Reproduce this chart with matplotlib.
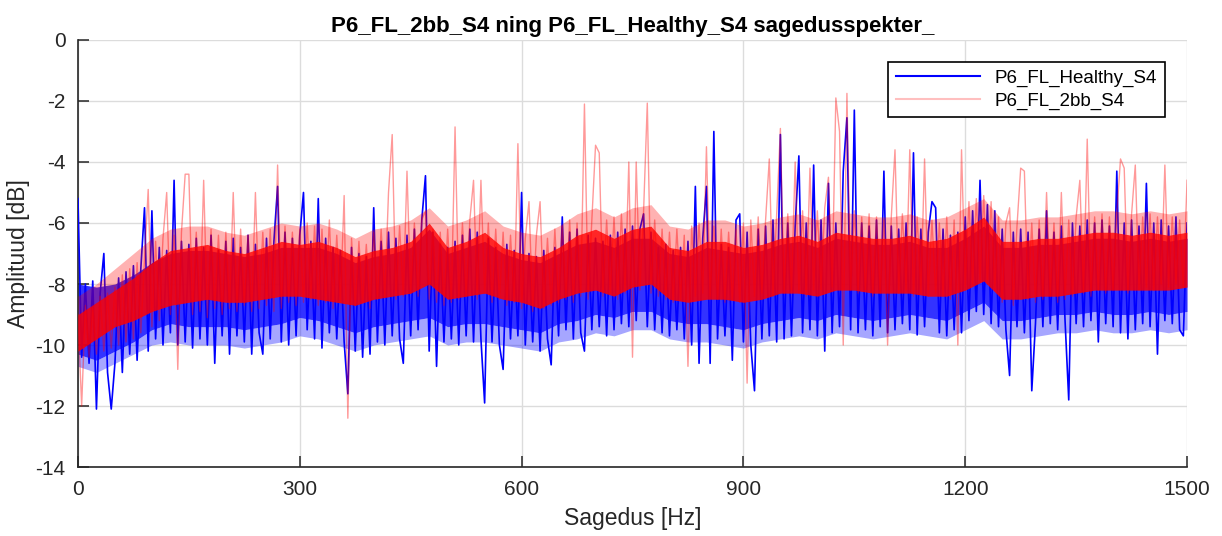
import numpy as np
import matplotlib
matplotlib.use("Agg")
import matplotlib.pyplot as plt
from matplotlib.lines import Line2D

plt.rcParams['font.family'] = ['Liberation Sans', 'DejaVu Sans']
plt.rcParams['axes.unicode_minus'] = False

# spectrum values, one value every 5 Hz (0 ... 1500 Hz)
freq_step = 5

healthy_db = [
    -5.2, -10.4, -8.0, -10.6, -7.9, -12.1, -8.3, -7.0, -10.9, -12.1,
    -10.6, -7.8, -10.9, -7.6, -10.3, -7.4, -10.5, -7.5, -5.5, -10.2,
    -5.6, -9.8, -6.8, -10.0, -6.9, -9.6, -4.6, -10.0, -6.6, -9.9,
    -6.7, -10.1, -6.5, -9.8, -6.8, -10.0, -6.4, -10.6, -6.9, -9.7,
    -6.6, -10.3, -6.5, -9.7, -6.8, -9.9, -6.4, -10.3, -6.7, -9.6,
    -10.3, -6.5, -9.8, -6.6, -4.8, -9.9, -6.3, -10.0, -6.5, -9.7,
    -6.4, -5.0, -9.5, -6.6, -9.8, -5.2, -10.1, -6.5, -9.6, -6.8,
    -9.8, -6.9, -9.9, -11.6, -6.8, -10.2, -7.0, -10.4, -7.1, -10.3,
    -5.5, -9.9, -6.6, -10.0, -6.3, -9.7, -6.5, -9.8, -10.6, -6.4,
    -9.7, -6.2, -9.5, -5.9, -4.45, -10.2, -6.3, -10.7, -6.7, -9.9,
    -6.8, -9.8, -6.6, -10.0, -6.4, -9.7, -6.2, -9.9, -6.3, -9.8,
    -11.9, -6.5, -9.9, -6.8, -10.0, -10.8, -6.7, -9.8, -6.9, -9.7,
    -5.0, -10.0, -7.0, -9.9, -7.1, -10.2, -6.9, -9.8, -10.65, -6.8,
    -9.7, -5.8, -9.5, -6.3, -9.8, -6.2, -9.6, -10.2, -6.4, -9.5,
    -6.5, -9.4, -6.6, -9.7, -6.4, -9.5, -6.3, -9.3, -6.2, -9.4,
    -6.1, -9.2, -6.2, -5.7, -9.4, -6.3, -9.5, -6.8, -9.6, -6.7,
    -9.7, -6.9, -9.5, -6.8, -9.8, -6.6, -10.0, -4.8, -10.6, -6.5,
    -4.8, -10.6, -3.0, -9.8, -6.7, -9.7, -6.8, -10.5, -5.9, -5.7,
    -9.9, -6.3, -10.0, -11.5, -6.2, -9.8, -6.1, -9.7, -5.9, -9.9,
    -3.1, -9.8, -6.0, -9.7, -6.1, -3.8, -9.6, -6.0, -9.5, -4.1,
    -9.7, -5.9, -10.2, -4.7, -9.6, -6.0, -9.4, -4.3, -2.55, -9.5,
    -2.3, -9.6, -6.0, -9.5, -6.1, -9.7, -5.9, -9.4, -4.3, -9.6,
    -6.1, -9.5, -6.2, -9.3, -6.0, -9.5, -3.7, -9.67, -6.2, -9.4,
    -6.3, -5.3, -5.5, -9.6, -6.2, -9.7, -6.4, -9.5, -6.3, -9.6,
    -5.8, -9.2, -5.6, -8.9, -4.6, -9.0, -5.4, -9.3, -5.6, -9.4,
    -6.2, -9.5, -11.0, -6.3, -9.4, -6.2, -9.6, -6.3, -11.5, -9.3,
    -6.2, -9.4, -5.6, -9.3, -6.3, -9.5, -6.1, -9.2, -11.8, -6.0,
    -9.3, -6.1, -9.4, -5.9, -9.2, -6.0, -9.9, -5.9, -9.3, -6.1,
    -9.4, -4.3, -9.6, -6.0, -9.8, -5.9, -9.5, -6.1, -9.3, -4.7,
    -9.4, -6.0, -10.3, -5.9, -9.2, -6.1, -9.3, -5.8, -9.5, -9.7,
    -6.0,
]

faulty_db = [
    -9.0, -12.0, -8.7, -10.4, -8.8, -10.3, -8.4, -10.2, -8.3, -10.1,
    -8.1, -10.0, -7.7, -9.9, -7.5, -9.8, -7.3, -9.6, -7.2, -4.9,
    -9.4, -6.6, -9.2, -6.5, -5.0, -9.0, -6.4, -10.8, -6.3, -4.4,
    -4.4, -9.0, -6.3, -8.9, -4.6, -9.1, -6.2, -8.8, -6.4, -9.0,
    -6.3, -8.8, -5.0, -8.9, -6.2, -8.7, -6.4, -8.9, -5.0, -8.8,
    -6.3, -8.7, -6.2, -8.9, -4.1, -8.8, -6.1, -8.6, -6.3, -8.7,
    -6.2, -8.6, -6.0, -8.5, -6.1, -8.7, -6.2, -8.6, -5.9, -8.8,
    -6.4, -8.6, -5.1, -12.4, -6.5, -8.7, -6.6, -8.6, -6.7, -8.8,
    -6.3, -8.5, -6.2, -8.4, -5.0, -3.1, -8.5, -6.1, -8.4, -4.3,
    -8.3, -6.0, -8.4, -5.9, -5.6, -8.5, -6.2, -8.6, -6.3, -8.7,
    -6.2, -8.6, -2.85, -8.5, -6.0, -8.4, -5.9, -4.6, -8.5, -4.6,
    -8.3, -6.0, -8.6, -6.2, -8.5, -6.3, -8.7, -6.4, -8.6, -3.4,
    -8.8, -6.5, -5.3, -8.9, -6.4, -5.3, -8.8, -6.5, -8.7, -6.2,
    -8.6, -6.1, -8.5, -5.9, -8.6, -6.0, -8.4, -2.1, -8.5, -5.9,
    -3.45, -3.7, -8.4, -5.9, -8.3, -5.8, -8.5, -5.7, -8.3, -4.0,
    -10.4, -4.0, -8.2, -5.6, -2.07, -8.3, -5.9, -8.4, -6.2, -8.5,
    -6.3, -8.6, -6.2, -8.5, -6.4, -10.7, -6.1, -8.4, -6.0, -8.3,
    -3.5, -8.4, -6.1, -8.5, -6.2, -8.6, -6.3, -8.5, -6.2, -8.6,
    -6.0, -11.25, -5.9, -8.4, -5.8, -8.3, -5.9, -3.9, -8.4, -5.7,
    -2.9, -8.3, -5.7, -8.2, -4.0, -8.3, -5.6, -8.4, -4.2, -8.2,
    -5.6, -8.2, -5.5, -4.5, -8.1, -1.9, -3.0, -10.0, -1.75, -8.2,
    -5.6, -8.3, -5.8, -8.2, -5.7, -8.4, -5.8, -8.3, -5.9, -10.0,
    -5.8, -3.6, -8.3, -5.7, -8.2, -3.6, -8.4, -5.8, -8.3, -3.9,
    -8.4, -5.9, -8.3, -6.0, -8.4, -5.8, -8.5, -5.9, -10.0, -3.6,
    -8.1, -5.3, -8.0, -5.2, -7.9, -5.1, -8.0, -5.3, -8.2, -5.8,
    -8.6, -6.0, -5.5, -8.7, -6.1, -4.2, -4.3, -8.5, -6.0, -8.6,
    -5.9, -8.5, -5.0, -8.4, -6.0, -8.6, -5.0, -8.5, -5.9, -8.4,
    -5.8, -4.6, -8.3, -3.25, -8.4, -5.8, -8.2, -5.7, -8.3, -5.8,
    -8.2, -5.7, -3.9, -4.2, -8.3, -5.7, -4.1, -8.2, -5.8, -8.1,
    -5.7, -8.2, -5.8, -8.0, -4.1, -8.1, -5.8, -8.0, -5.9, -8.1,
    -4.6,
]

# the dense parts of each trace (where the lines overlap to a solid band),
# read every 25 Hz (0 ... 1500 Hz)
band_step = 25

healthy_core_top = [
    -8.0, -8.1, -8.0, -7.7, -7.3, -7.0, -6.9, -6.9, -7.0, -7.1,
    -7.0, -6.8, -6.8, -6.8, -7.0, -7.3, -7.1, -7.0, -6.8, -6.2,
    -7.0, -6.8, -6.6, -7.0, -7.2, -7.3, -7.0, -6.7, -6.6, -6.8,
    -6.5, -6.5, -7.0, -7.1, -6.8, -6.9, -7.0, -6.9, -6.7, -6.6,
    -6.8, -6.5, -6.6, -6.7, -6.7, -6.6, -6.8, -6.8, -6.5, -6.1,
    -6.8, -6.8, -6.7, -6.7, -6.6, -6.5, -6.5, -6.6, -6.5, -6.6,
    -6.5,
]
healthy_core_bottom = [
    -10.3, -10.5, -10.2, -9.9, -9.5, -9.3, -9.4, -9.4, -9.4, -9.5,
    -9.4, -9.3, -9.1, -9.2, -9.4, -9.6, -9.4, -9.3, -9.2, -9.1,
    -9.4, -9.3, -9.3, -9.4, -9.5, -9.6, -9.3, -9.2, -9.0, -9.1,
    -8.9, -8.9, -9.2, -9.3, -9.3, -9.4, -9.5, -9.3, -9.2, -9.1,
    -9.2, -9.0, -9.1, -9.2, -9.1, -9.0, -9.1, -9.2, -8.9, -8.6,
    -9.2, -9.2, -9.1, -9.0, -9.0, -8.9, -9.0, -9.0, -8.9, -9.0,
    -8.9,
]
healthy_fringe_bottom = [
    -10.7, -10.9, -10.6, -10.3, -10.0, -9.9, -10.0, -10.0, -10.0, -10.1,
    -10.0, -9.9, -9.7, -9.8, -10.0, -10.2, -10.0, -9.9, -9.8, -9.7,
    -10.0, -9.9, -9.9, -10.0, -10.1, -10.2, -9.9, -9.8, -9.6, -9.7,
    -9.5, -9.5, -9.8, -9.9, -9.9, -10.0, -10.1, -9.9, -9.8, -9.7,
    -9.8, -9.6, -9.7, -9.8, -9.7, -9.6, -9.7, -9.8, -9.5, -9.2,
    -9.8, -9.8, -9.7, -9.6, -9.6, -9.5, -9.6, -9.6, -9.5, -9.6,
    -9.5,
]
faulty_core_top = [
    -9.0, -8.6, -8.2, -7.8, -7.3, -6.9, -6.8, -6.7, -6.9, -7.0,
    -6.8, -6.6, -6.7, -6.6, -6.8, -7.1, -6.9, -6.8, -6.6, -6.0,
    -6.8, -6.6, -6.3, -6.8, -7.0, -7.1, -6.8, -6.4, -6.2, -6.5,
    -6.2, -6.1, -6.8, -6.9, -6.6, -6.6, -6.8, -6.7, -6.5, -6.4,
    -6.6, -6.3, -6.4, -6.5, -6.5, -6.4, -6.6, -6.5, -6.2, -5.8,
    -6.6, -6.6, -6.5, -6.5, -6.4, -6.3, -6.3, -6.4, -6.3, -6.4,
    -6.3,
]
faulty_core_bottom = [
    -10.2, -9.8, -9.4, -9.2, -8.9, -8.7, -8.6, -8.5, -8.6, -8.6,
    -8.5, -8.4, -8.4, -8.5, -8.6, -8.7, -8.5, -8.4, -8.3, -8.0,
    -8.5, -8.4, -8.3, -8.5, -8.6, -8.8, -8.5, -8.3, -8.2, -8.4,
    -8.1, -8.0, -8.5, -8.6, -8.5, -8.5, -8.6, -8.5, -8.3, -8.3,
    -8.4, -8.2, -8.2, -8.3, -8.3, -8.3, -8.4, -8.4, -8.2, -7.9,
    -8.5, -8.5, -8.4, -8.4, -8.3, -8.2, -8.2, -8.2, -8.2, -8.2,
    -8.1,
]
faulty_fringe_top = [
    -8.4, -8.0, -7.5, -7.0, -6.5, -6.2, -6.1, -6.1, -6.3, -6.4,
    -6.2, -6.0, -6.1, -6.0, -6.2, -6.5, -6.2, -6.1, -5.9, -5.5,
    -6.1, -5.9, -5.6, -6.1, -6.3, -6.4, -6.1, -5.7, -5.5, -5.8,
    -5.5, -5.4, -6.1, -6.2, -5.9, -5.9, -6.1, -6.0, -5.8, -5.7,
    -5.9, -5.6, -5.7, -5.8, -5.8, -5.7, -5.9, -5.8, -5.5, -5.2,
    -5.9, -5.9, -5.8, -5.8, -5.7, -5.6, -5.6, -5.7, -5.6, -5.7,
    -5.6,
]

labels = ['P6_FL_Healthy_S4', 'P6_FL_2bb_S4']
title = 'P6_FL_2bb_S4 ning P6_FL_Healthy_S4 sagedusspekter_'
x_ticks = [0, 300, 600, 900, 1200, 1500]
y_ticks = [0, -2, -4, -6, -8, -10, -12, -14]

freqs = np.arange(len(healthy_db)) * freq_step
band_freqs = np.arange(len(healthy_core_top)) * band_step

fig = plt.figure(figsize=(12.22, 5.36), dpi=100)
ax = fig.add_axes([0.0638, 0.1287, 0.9076, 0.7967])

# healthy (blue) first, faulty (translucent red) drawn over it
ax.fill_between(band_freqs, healthy_fringe_bottom, healthy_core_bottom,
                color='#0000ff', alpha=0.35, lw=0, zorder=2)
ax.fill_between(band_freqs, healthy_core_bottom, healthy_core_top,
                color='#0000ff', alpha=0.8, lw=0, zorder=2)
ax.plot(freqs, healthy_db, color='#0000ff', lw=1.2, zorder=3)
ax.fill_between(band_freqs, faulty_core_top, faulty_fringe_top,
                color='#ff0000', alpha=0.3, lw=0, zorder=4)
ax.fill_between(band_freqs, faulty_core_bottom, faulty_core_top,
                color='#ff0000', alpha=0.85, lw=0, zorder=4)
ax.plot(freqs, faulty_db, color='#ff0000', lw=1.0, alpha=0.4, zorder=5)

ax.set_xlim(0, 1500)
ax.set_ylim(-14, 0)
ax.set_xticks(x_ticks)
ax.set_yticks(y_ticks)
ax.grid(True, color='#dcdcdc', lw=1.0, zorder=0)
ax.set_axisbelow(True)
for side in ['top', 'right']:
    ax.spines[side].set_visible(False)
for side in ['left', 'bottom']:
    ax.spines[side].set_color('#262626')
    ax.spines[side].set_linewidth(1.2)
ax.tick_params(direction='in', length=8, width=1.1, labelsize=15,
               colors='#262626', pad=9)

ax.set_xlabel('Sagedus [Hz]', fontsize=16.5, color='#262626', labelpad=6)
ax.set_ylabel('Amplituud [dB]', fontsize=16.5, color='#262626', labelpad=4)
ax.set_title(title, fontsize=16, fontweight='bold', pad=6)

# legend handles as MATLAB draws them (thin blue, light pink)
handles = [Line2D([], [], color='#0000ff', lw=1.5),
           Line2D([], [], color='#ff0000', lw=1.5, alpha=0.25)]
leg = ax.legend(handles, labels, loc='upper right', bbox_to_anchor=(0.980, 0.9485),
                borderaxespad=0, fontsize=13.5, fancybox=False, framealpha=1,
                edgecolor='black', handlelength=4.5, borderpad=0.4, labelspacing=0.3)
leg.get_frame().set_linewidth(1.2)
leg.set_zorder(10)

fig.savefig('out.png', dpi=100)
